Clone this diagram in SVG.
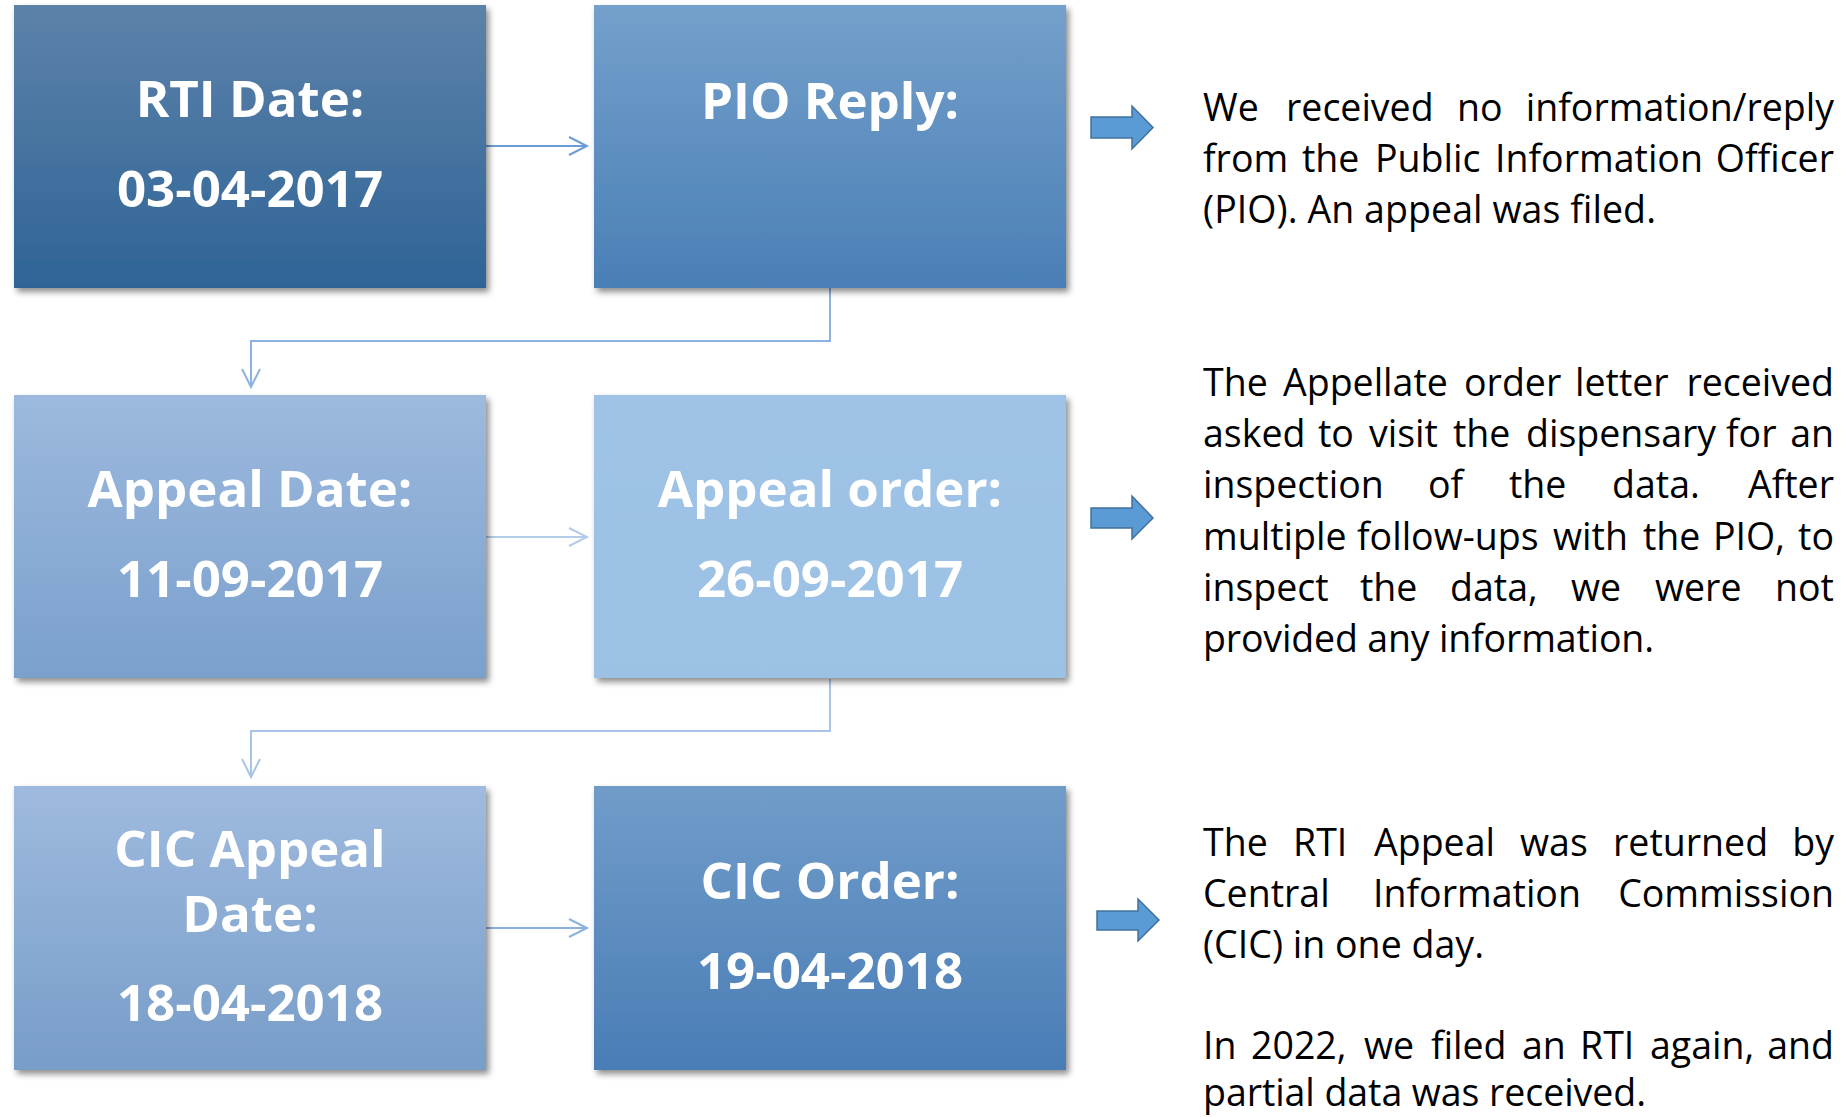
<svg xmlns="http://www.w3.org/2000/svg" width="1843" height="1117" viewBox="0 0 1843 1117">
<style>
.box{filter:url(#sh)}
.bt{font-family:"Open Sans","Liberation Sans",sans-serif;font-weight:bold;font-size:51px;fill:#fff;text-anchor:middle}
.tx{font-family:"Open Sans","Liberation Sans",sans-serif;font-size:37.5px;fill:#000}
.end{text-anchor:end}
.con{fill:none;stroke-width:2}
.blk{fill:#5b9bd5;stroke:#41719c;stroke-width:1.5}
</style>
<defs>
<filter id="sh" x="-10%" y="-10%" width="125%" height="125%">
<feDropShadow dx="3" dy="4" stdDeviation="3" flood-color="#000" flood-opacity="0.45"/>
</filter>
<linearGradient id="g1" x1="0" y1="0" x2="0" y2="1"><stop offset="0" stop-color="#5d82a9"/><stop offset="1" stop-color="#2f6497"/></linearGradient>
<linearGradient id="g2" x1="0" y1="0" x2="0" y2="1"><stop offset="0" stop-color="#74a0cb"/><stop offset="1" stop-color="#4a7fb6"/></linearGradient>
<linearGradient id="g3" x1="0" y1="0" x2="0" y2="1"><stop offset="0" stop-color="#9db9de"/><stop offset="1" stop-color="#7aa0cc"/></linearGradient>
<linearGradient id="g4" x1="0" y1="0" x2="0" y2="1"><stop offset="0" stop-color="#9ec3e6"/><stop offset="1" stop-color="#9bc1e5"/></linearGradient>
<linearGradient id="g5" x1="0" y1="0" x2="0" y2="1"><stop offset="0" stop-color="#9fbadf"/><stop offset="1" stop-color="#779dc8"/></linearGradient>
<linearGradient id="g6" x1="0" y1="0" x2="0" y2="1"><stop offset="0" stop-color="#709cc9"/><stop offset="1" stop-color="#4a7db6"/></linearGradient>
</defs>
<rect width="1843" height="1117" fill="#fff"/>

<g id="connectors">
<path class="con" stroke="#6d9cd4" d="M486 146H587M569 137L587 146L569 155"/>
<path class="con" stroke="#8db2df" d="M830 288V341H251V387M242 369L251 387L260 369"/>
<path class="con" stroke="#b3cce9" d="M486 537H587M569 528L587 537L569 546"/>
<path class="con" stroke="#a8c5e8" d="M830 679V731H251V777M242 759L251 777L260 759"/>
<path class="con" stroke="#8db1de" d="M486 928H587M569 919L587 928L569 937"/>
</g>

<g id="rti-date">
<rect class="box" x="14" y="5" width="472" height="283" fill="url(#g1)"/>
<text class="bt" x="250" y="117">RTI Date:</text>
<text class="bt" x="250" y="207">03-04-2017</text>
</g>
<g id="pio-reply">
<rect class="box" x="594" y="5" width="472" height="283" fill="url(#g2)"/>
<text class="bt" x="830" y="119">PIO Reply:</text>
</g>
<g id="appeal-date">
<rect class="box" x="14" y="395" width="472" height="283" fill="url(#g3)"/>
<text class="bt" x="250" y="507">Appeal Date:</text>
<text class="bt" x="250" y="597">11-09-2017</text>
</g>
<g id="appeal-order">
<rect class="box" x="594" y="395" width="472" height="283" fill="url(#g4)"/>
<text class="bt" x="830" y="507">Appeal order:</text>
<text class="bt" x="830" y="597">26-09-2017</text>
</g>
<g id="cic-appeal-date">
<rect class="box" x="14" y="786" width="472" height="284" fill="url(#g5)"/>
<text class="bt" x="250" y="867">CIC Appeal</text>
<text class="bt" x="250" y="932">Date:</text>
<text class="bt" x="250" y="1021">18-04-2018</text>
</g>
<g id="cic-order">
<rect class="box" x="594" y="786" width="472" height="284" fill="url(#g6)"/>
<text class="bt" x="830" y="899">CIC Order:</text>
<text class="bt" x="830" y="989">19-04-2018</text>
</g>

<g id="arrow1"><path class="blk" d="M1091 117H1132V106L1153 127.5L1132 149V138H1091Z"/></g>
<g id="arrow2"><path class="blk" d="M1091 508H1132V496L1153 518L1132 539V528H1091Z"/></g>
<g id="arrow3"><path class="blk" d="M1097 911H1138V899L1159 920L1138 941V930H1097Z"/></g>

<g id="note1">
<text class="tx" y="121"><tspan x="1203">We</tspan><tspan x="1286">received</tspan><tspan x="1457">no</tspan></text>
<text class="tx end" x="1834" y="121">information/reply</text>
<text class="tx" y="172"><tspan x="1203">from</tspan><tspan x="1302">the</tspan><tspan x="1375">Public</tspan><tspan x="1495">Information</tspan></text>
<text class="tx end" x="1834" y="172">Officer</text>
<text class="tx" x="1203" y="223" textLength="453" lengthAdjust="spacing">(PIO). An appeal was filed.</text>
</g>

<g id="note2">
<text class="tx" y="396"><tspan x="1203">The</tspan><tspan x="1283">Appellate</tspan><tspan x="1464">order</tspan><tspan x="1575">letter</tspan></text>
<text class="tx end" x="1834" y="396">received</text>
<text class="tx" y="447"><tspan x="1203">asked</tspan><tspan x="1318">to</tspan><tspan x="1369">visit</tspan><tspan x="1453">the</tspan><tspan x="1526">dispensary</tspan><tspan x="1726">for</tspan></text>
<text class="tx end" x="1834" y="447">an</text>
<text class="tx" y="498"><tspan x="1203">inspection</tspan><tspan x="1428">of</tspan><tspan x="1509">the</tspan><tspan x="1612">data.</tspan></text>
<text class="tx end" x="1834" y="498">After</text>
<text class="tx" y="550"><tspan x="1203">multiple</tspan><tspan x="1357">follow-ups</tspan><tspan x="1553">with</tspan><tspan x="1643">the</tspan><tspan x="1713">PIO,</tspan></text>
<text class="tx end" x="1834" y="550">to</text>
<text class="tx" y="601"><tspan x="1203">inspect</tspan><tspan x="1360">the</tspan><tspan x="1450">data,</tspan><tspan x="1571">we</tspan><tspan x="1655">were</tspan></text>
<text class="tx end" x="1834" y="601">not</text>
<text class="tx" x="1203" y="652" textLength="451" lengthAdjust="spacing">provided any information.</text>
</g>

<g id="note3">
<text class="tx" y="856"><tspan x="1203">The</tspan><tspan x="1293">RTI</tspan><tspan x="1374">Appeal</tspan><tspan x="1520">was</tspan><tspan x="1613">returned</tspan></text>
<text class="tx end" x="1834" y="856">by</text>
<text class="tx" y="907"><tspan x="1203">Central</tspan><tspan x="1373">Information</tspan></text>
<text class="tx end" x="1834" y="907">Commission</text>
<text class="tx" x="1203" y="958" textLength="281" lengthAdjust="spacing">(CIC) in one day.</text>
<text class="tx" y="1059"><tspan x="1203">In</tspan><tspan x="1251">2022,</tspan><tspan x="1364">we</tspan><tspan x="1431">filed</tspan><tspan x="1522">an</tspan><tspan x="1580">RTI</tspan><tspan x="1650">again,</tspan></text>
<text class="tx end" x="1834" y="1059">and</text>
<text class="tx" x="1203" y="1106" textLength="443" lengthAdjust="spacing">partial data was received.</text>
</g>
</svg>
